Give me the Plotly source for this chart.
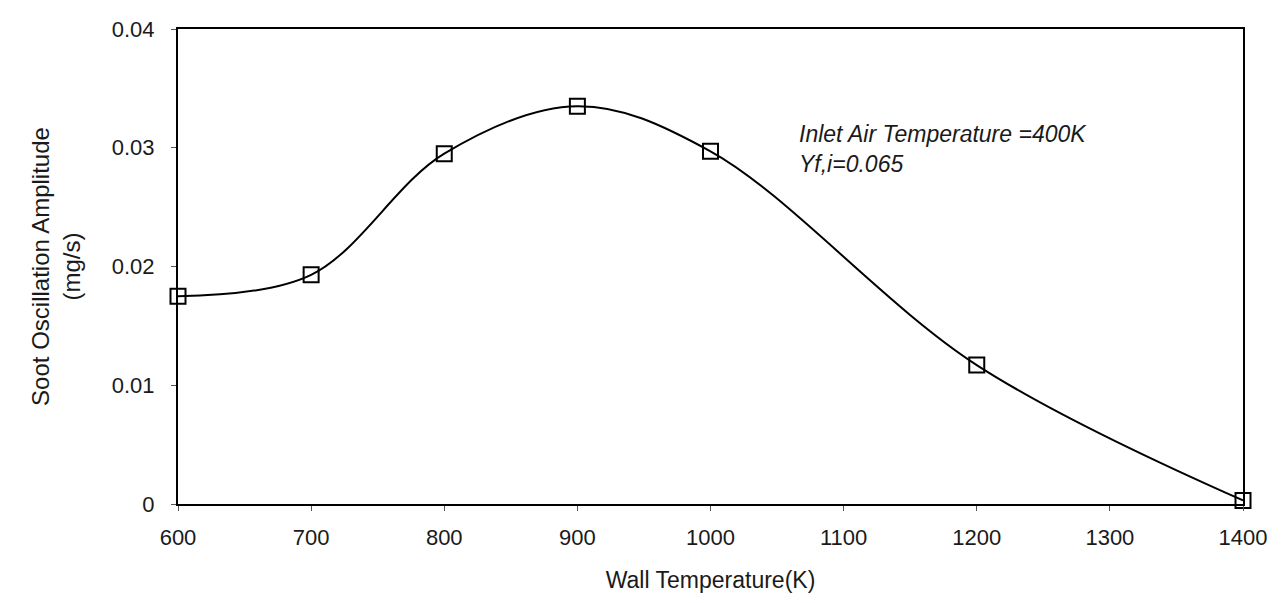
import plotly.graph_objects as go

wall_temp = [600, 700, 800, 900, 1000, 1200, 1400]
soot_amp = [0.0175, 0.0193, 0.0295, 0.0335, 0.0297, 0.0117, 0.0003]
x_ticks = [600, 700, 800, 900, 1000, 1100, 1200, 1300, 1400]
y_ticks = [0, 0.01, 0.02, 0.03, 0.04]
y_tick_text = ["0", "0.01", "0.02", "0.03", "0.04"]

fig = go.Figure()
fig.add_trace(go.Scatter(
    x=wall_temp, y=soot_amp, mode="lines+markers",
    line=dict(color="black", width=2, shape="spline", smoothing=1),
    marker=dict(symbol="square-open", size=15, color="black", line=dict(width=2)),
    cliponaxis=False, showlegend=False,
))

fam = "Liberation Sans, Arial, sans-serif"
tick_font = dict(family=fam, size=22, color="#1a1a1a")
fig.update_layout(
    width=1281, height=603,
    margin=dict(l=178, r=38, t=29, b=99),
    paper_bgcolor="white", plot_bgcolor="white",
    font=dict(family=fam, size=21, color="#1a1a1a"),
    xaxis=dict(range=[600, 1400], tickvals=x_ticks, showgrid=False, zeroline=False,
               showline=True, linecolor="black", linewidth=2, mirror=True,
               ticks="outside", ticklen=5, tickcolor="#555", tickwidth=1,
               tickfont=tick_font, ticklabelstandoff=8,
               title=dict(text="Wall Temperature(K)", font=dict(family=fam, size=23, color="#1a1a1a"), standoff=22)),
    yaxis=dict(range=[0, 0.04], tickvals=y_ticks, ticktext=y_tick_text, showgrid=False,
               zeroline=False, showline=True, linecolor="black", linewidth=2, mirror=True,
               ticks="outside", ticklen=5, tickcolor="#555", tickwidth=1,
               tickfont=tick_font, ticklabelstandoff=12,
               title=dict(text="Soot Oscillation Amplitude<br>(mg/s)", font=dict(family=fam, size=24, color="#1a1a1a"), standoff=24)),
    annotations=[dict(
        x=1065, y=0.0324, xref="x", yref="y", xanchor="left", yanchor="top",
        text="<i>Inlet Air Temperature =400K</i><br><i>Yf,i=0.065</i>",
        showarrow=False, align="left", font=dict(family=fam, size=23, color="#1a1a1a"),
    )],
)
fig.write_html("out.html")
